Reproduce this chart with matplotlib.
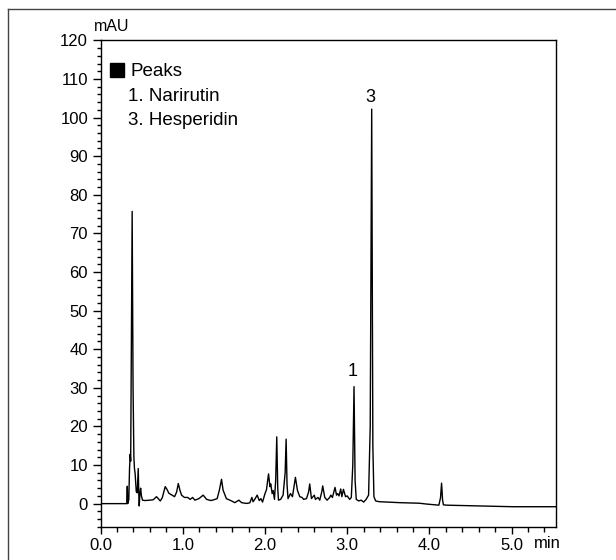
import matplotlib
matplotlib.use("Agg")
import matplotlib.pyplot as plt
from matplotlib.lines import Line2D
from matplotlib.ticker import MultipleLocator, FormatStrFormatter

plt.rcParams['font.family'] = ['Liberation Sans', 'DejaVu Sans']

# chromatogram trace (time in min, signal in mAU)
time_min = [
    0.00, 0.318, 0.325, 0.330, 0.343, 0.352, 0.360, 0.366, 0.384, 0.395,
    0.405, 0.412, 0.420, 0.434, 0.446, 0.458, 0.464, 0.470, 0.478, 0.487,
    0.497, 0.510, 0.540, 0.600, 0.640, 0.680, 0.726, 0.750, 0.786, 0.810,
    0.830, 0.870, 0.900, 0.925, 0.945, 0.965, 0.985, 1.020, 1.060, 1.090,
    1.120, 1.147, 1.196, 1.248, 1.290, 1.340, 1.378, 1.418, 1.445, 1.471,
    1.490, 1.530, 1.593, 1.633, 1.682, 1.715, 1.775, 1.815, 1.840, 1.855,
    1.875, 1.905, 1.930, 1.950, 1.970, 2.000, 2.018, 2.043, 2.060, 2.070,
    2.087, 2.100, 2.115, 2.130, 2.143, 2.155, 2.164, 2.190, 2.220, 2.245,
    2.257, 2.268, 2.280, 2.310, 2.334, 2.350, 2.370, 2.395, 2.423, 2.450,
    2.470, 2.505, 2.530, 2.544, 2.565, 2.600, 2.613, 2.645, 2.666, 2.690,
    2.702, 2.727, 2.755, 2.787, 2.800, 2.820, 2.852, 2.870, 2.884, 2.900,
    2.921, 2.935, 2.954, 2.980, 3.000, 3.030, 3.050, 3.068, 3.083, 3.096,
    3.110, 3.140, 3.170, 3.200, 3.230, 3.260, 3.280, 3.298, 3.312, 3.325,
    3.346, 3.390, 3.640, 3.880, 3.960, 4.115, 4.135, 4.148, 4.160, 4.170,
    4.210, 4.610, 5.010, 5.540,
]
signal_mau = [
    0.0, 0.0, 4.5, 0.0, 1.0, 9.0, 12.8, 11.0, 75.7, 30.0,
    12.0, 9.1, 7.8, 3.1, 2.8, 9.1, 3.0, -0.6, 2.5, 4.0,
    2.0, 0.9, 0.8, 0.9, 1.0, 1.8, 0.7, 1.5, 4.4, 3.6,
    2.7, 2.2, 1.8, 3.0, 5.2, 3.5, 2.2, 1.6, 1.6, 1.1,
    1.6, 0.9, 1.3, 2.2, 1.1, 0.8, 1.0, 1.3, 3.5, 6.3,
    3.5, 1.3, 0.7, 0.25, 0.9, 0.25, 0.05, 0.2, 1.6, 0.5,
    1.1, 2.2, 0.8, 1.3, 0.4, 2.6, 3.6, 7.7, 4.4, 5.1,
    2.6, 3.4, 1.1, 6.0, 17.3, 4.0, 0.9, 1.1, 2.2, 8.0,
    16.7, 5.0, 1.3, 2.6, 1.8, 4.0, 6.8, 3.4, 1.8, 1.6,
    1.1, 1.3, 3.0, 5.1, 1.3, 2.2, 1.1, 1.6, 0.9, 3.0,
    4.6, 1.6, 0.9, 1.6, 2.2, 1.6, 4.2, 2.2, 2.6, 2.0,
    3.8, 1.8, 3.7, 1.8, 2.0, 1.1, 1.6, 10.0, 30.3, 6.0,
    1.1, 0.7, 0.9, 0.4, 1.1, 2.2, 20.0, 102.2, 15.0, 1.8,
    0.7, 0.5, 0.25, 0.1, -0.1, -0.4, 1.5, 5.3, 1.0, -0.3,
    -0.4, -0.6, -0.8, -0.8,
]

# labelled peaks
peak_labels = ['1', '3']
peak_times = [3.083, 3.298]
peak_heights = [30.3, 102.2]
peak_offsets = [8, 5]

legend_title = 'Peaks'
legend_items = ['1. Narirutin', '3. Hesperidin']

fig = plt.figure(figsize=(6.16, 5.6), dpi=100)
ax = fig.add_axes([0.1633, 0.0593, 0.7393, 0.8686])

ax.plot(time_min, signal_mau, color='black', lw=1.0)

ax.set_xlim(0, 5.54)
ax.set_ylim(-6, 120)
ax.xaxis.set_major_locator(MultipleLocator(1.0))
ax.xaxis.set_minor_locator(MultipleLocator(0.2))
ax.xaxis.set_major_formatter(FormatStrFormatter('%.1f'))
ax.yaxis.set_major_locator(MultipleLocator(10))
ax.yaxis.set_minor_locator(MultipleLocator(2))
ax.tick_params(which='both', direction='out', width=1, labelsize=12)
ax.tick_params(axis='y', which='major', length=6, pad=3)
ax.tick_params(axis='y', which='minor', length=3)
ax.tick_params(axis='x', which='major', length=5, pad=3)
ax.tick_params(axis='x', which='minor', length=3.5)
for s in ax.spines.values():
    s.set_linewidth(1)

# unit labels
ax.text(0.025, 1.0276, 'mAU', transform=ax.transAxes, fontsize=11.5,
        ha='center', va='center')
ax.text(0.982, -0.034, 'min', transform=ax.transAxes, fontsize=12,
        ha='center', va='center')

# peak numbers
for lab, t, h, off in zip(peak_labels, peak_times, peak_heights, peak_offsets):
    ax.annotate(lab, (t, h), xytext=(-1, off), textcoords='offset points',
                ha='center', va='baseline', fontsize=13)

# legend block
ax.plot([0.037], [0.939], marker='s', ms=10.5, color='black',
        transform=ax.transAxes, clip_on=False)
ax.text(0.0646, 0.9365, legend_title, transform=ax.transAxes, fontsize=13.5,
        ha='left', va='center')
for i, item in enumerate(legend_items):
    ax.text(0.060, 0.885 - i * 0.05, item, transform=ax.transAxes,
            fontsize=13.5, ha='left', va='center')

# outer frame (only left and top edges show)
fig.add_artist(Line2D([0.013, 0.013], [0.0, 0.984], color='#444444', lw=1))
fig.add_artist(Line2D([0.013, 1.0], [0.984, 0.984], color='#444444', lw=1))

fig.savefig('out.png', dpi=100)
